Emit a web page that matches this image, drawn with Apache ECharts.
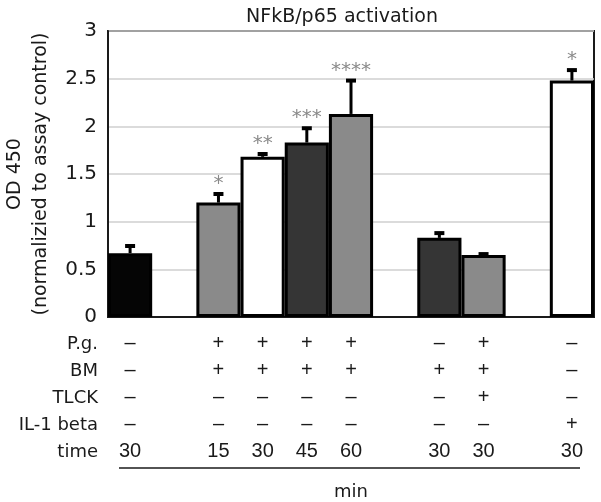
<!DOCTYPE html>
<html>
<head>
<meta charset="utf-8">
<script src="https://cdn.jsdelivr.net/npm/echarts@6/dist/echarts.min.js"></script>
<style>
html,body{margin:0;padding:0;background:#fff;}
#chart{width:601px;height:502px;}
</style>
</head>
<body>
<div id="chart"></div>
<script>
// ---- data ----
const categories = ['ctrl30', 'gap1', 'PgBM15', 'PgBM30', 'PgBM45', 'PgBM60', 'gap2', 'BM30', 'PgBMTLCK30', 'gap3', 'IL1b30'];
const values = [0.67, null, 1.20, 1.68, 1.83, 2.13, null, 0.83, 0.65, null, 2.48];
const errors = [0.075, null, 0.09, 0.03, 0.15, 0.35, null, 0.05, 0.01, null, 0.11];
const stars = ['', '', '*', '**', '***', '****', '', '', '', '', '*'];
const pgRow = ['–', '', '+', '+', '+', '+', '', '–', '+', '', '–'];
const bmRow = ['–', '', '+', '+', '+', '+', '', '+', '+', '', '–'];
const tlckRow = ['–', '', '–', '–', '–', '–', '', '–', '+', '', '–'];
const il1Row = ['–', '', '–', '–', '–', '–', '', '–', '–', '', '+'];
const timeRow = ['30', '', '15', '30', '45', '60', '', '30', '30', '', '30'];
const rowLabels = ['P.g.', 'BM', 'TLCK', 'IL-1 beta', 'time'];
const yTicks = [0, 0.5, 1, 1.5, 2, 2.5, 3];
const titleText = 'NFkB/p65 activation';
const yName = 'OD 450\n(normalizied to assay control)';
const xName = 'min';

// ---- styles ----
const barFill = ['#050505', null, '#8a8a8a', '#ffffff', '#353535', '#8a8a8a', null, '#353535', '#8a8a8a', null, '#ffffff'];
const FONT = '"DejaVu Sans", "Liberation Sans", Arial, sans-serif';
const FONT2 = '"Liberation Sans", Arial, sans-serif';
const TXT = '#1a1a1a';

const chart = echarts.init(document.getElementById('chart'), null, {renderer: 'canvas'});

const barData = values.map((v, i) => v == null ? '-' : {
  value: v,
  itemStyle: {color: barFill[i], borderColor: '#000', borderWidth: 3}
});
const errData = values.map((v, i) => v == null ? null : [i, v, v + errors[i]]).filter(d => d);

const ROW_H = 27;
const GRID_LEFT = 108, GRID_TOP = 31, GRID_RIGHT = 7, GRID_BOTTOM = 185;
const axisY = 502 - GRID_BOTTOM;

const graphics = rowLabels.map((t, k) => ({
  type: 'text',
  style: {text: t, x: 98, y: axisY + 27 + k * ROW_H, textAlign: 'right', textVerticalAlign: 'middle',
    font: '18px ' + FONT, fill: TXT}
}));
graphics.push({
  type: 'line',
  shape: {x1: 119, y1: 468, x2: 580, y2: 468},
  style: {stroke: TXT, lineWidth: 1.5}
});

chart.setOption({
  animation: false,
  title: {
    text: titleText, left: 337, textAlign: 'center', top: 3,
    textStyle: {fontFamily: FONT, fontSize: 19, fontWeight: 'normal', color: TXT}
  },
  grid: {left: GRID_LEFT, right: GRID_RIGHT, top: GRID_TOP, bottom: GRID_BOTTOM,
    containLabel: false, outerBoundsMode: 'none',
    show: true, borderColor: TXT, borderWidth: 2, backgroundColor: 'transparent'},
  xAxis: {
    type: 'category', data: categories,
    name: xName, nameLocation: 'middle', nameGap: 166,
    nameTextStyle: {fontFamily: FONT, fontSize: 18, color: TXT},
    axisLine: {show: true, lineStyle: {color: TXT, width: 2}},
    axisTick: {show: false},
    axisLabel: {
      interval: 0, margin: 13, lineHeight: ROW_H, hideOverlap: false,
      fontFamily: FONT2, fontSize: 20, color: TXT,
      formatter: (v, i) => [pgRow[i], bmRow[i], tlckRow[i], il1Row[i], timeRow[i]].join('\n')
    },
    splitLine: {show: false}
  },
  yAxis: {
    type: 'value', min: 0, max: 3, interval: 0.5,
    name: yName, nameLocation: 'middle', nameGap: 53, nameRotate: 90,
    nameTextStyle: {fontFamily: FONT, fontSize: 19, color: TXT, lineHeight: 26},
    axisLine: {show: true, lineStyle: {color: TXT, width: 2}},
    axisTick: {show: false},
    axisLabel: {fontFamily: FONT, fontSize: 20, color: TXT, margin: 11,
      formatter: v => (yTicks.indexOf(v) >= 0 ? String(v) : '')},
    splitLine: {show: true, lineStyle: {color: '#cfcfcf', width: 1.5}}
  },
  graphic: graphics,
  series: [
    {
      type: 'bar', data: barData, barCategoryGap: '0%', barWidth: '100%', z: 2
    },
    {
      type: 'custom', z: 3,
      data: errData,
      renderItem: function (params, api) {
        const idx = api.value(0);
        const p0 = api.coord([idx, api.value(1)]);
        const p1 = api.coord([idx, api.value(2)]);
        const star = stars[idx];
        const children = [
          {type: 'line', shape: {x1: p0[0], y1: p0[1], x2: p1[0], y2: p1[1]},
            style: {stroke: '#000', lineWidth: 3}},
          {type: 'rect', shape: {x: p1[0] - 5, y: p1[1] - 2, width: 10, height: 4},
            style: {fill: '#000'}}
        ];
        if (star) {
          children.push({type: 'text', style: {text: star, x: p1[0], y: p1[1],
            textAlign: 'center', textVerticalAlign: 'bottom',
            font: '20px ' + FONT, fill: '#8a8a8a'}});
        }
        return {type: 'group', children: children};
      }
    }
  ]
});
</script>
</body>
</html>
